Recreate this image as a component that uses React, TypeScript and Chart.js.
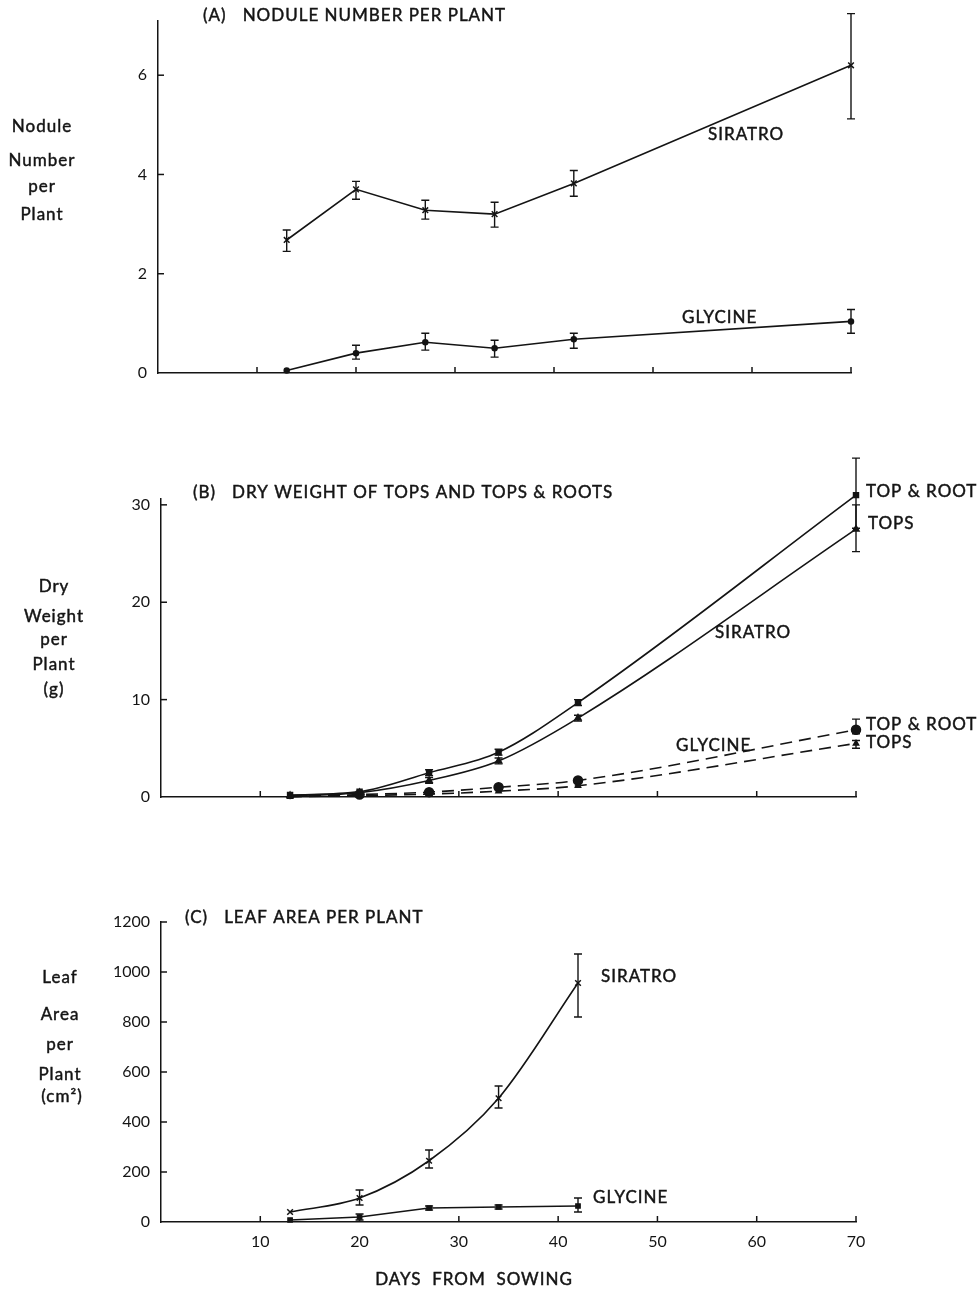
import React, { useEffect, useRef } from 'react';
import { Chart, registerables } from 'chart.js';

Chart.register(...registerables);
Chart.defaults.font.family = 'Lato';

// ---------- DATA ----------
const daysAB = [13, 20, 27, 34, 42, 70];
const daysC = [13, 20, 27, 34, 42];

// (A) Nodule number per plant
const noduleSiratro = [2.68, 3.7, 3.28, 3.2, 3.82, 6.2];
const noduleSiratroLow = [2.45, 3.5, 3.1, 2.94, 3.56, 5.12];
const noduleSiratroHigh = [2.88, 3.86, 3.48, 3.44, 4.08, 7.24];
const noduleGlycine = [0.05, 0.4, 0.62, 0.5, 0.68, 1.04];
const noduleGlycineLow = [null, 0.28, 0.46, 0.32, 0.5, 0.8];
const noduleGlycineHigh = [null, 0.56, 0.8, 0.66, 0.8, 1.28];

// (B) Dry weight per plant (g)
const dwSiratroTopRoot = [0.2, 0.55, 2.5, 4.6, 9.7, 31.0];
const dwSiratroTopRootLow = [null, null, 2.2, 4.3, 9.4, 27.6];
const dwSiratroTopRootHigh = [null, null, 2.8, 4.9, 10.0, 34.8];
const dwSiratroTops = [0.15, 0.45, 1.7, 3.7, 8.1, 27.5];
const dwSiratroTopsLow = [null, null, 1.4, 3.4, 7.8, 25.2];
const dwSiratroTopsHigh = [null, null, 2.0, 4.0, 8.4, 30.0];
const dwGlycineTopRoot = [0.05, 0.25, 0.5, 1.0, 1.7, 6.9];
const dwGlycineTopRootLow = [null, null, null, null, null, 6.5];
const dwGlycineTopRootHigh = [null, null, null, null, null, 8.0];
const dwGlycineTops = [0.03, 0.15, 0.3, 0.6, 1.15, 5.5];
const dwGlycineTopsLow = [null, null, null, null, null, 5.0];
const dwGlycineTopsHigh = [null, null, null, null, null, 5.8];

// (C) Leaf area per plant (cm2)
const laSiratro = [40, 96, 245, 495, 956];
const laSiratroLow = [null, 68, 216, 456, 820];
const laSiratroHigh = [null, 128, 288, 544, 1072];
const laGlycine = [8, 20, 56, 60, 64];
const laGlycineLow = [null, 8, 48, 52, 40];
const laGlycineHigh = [null, 32, 64, 68, 96];

const xTicks = [10, 20, 30, 40, 50, 60, 70];
const yTicksA = [0, 2, 4, 6];
const yTicksB = [0, 10, 20, 30];
const yTicksC = [0, 200, 400, 600, 800, 1000, 1200];

// ---------- helpers ----------
type TextItem = { text: string; x: number; y: number; align?: CanvasTextAlign; size?: number };
type ErrItem = { ds: number; low: (number | null)[]; high: (number | null)[] };

const INK = '#141414';

function pts(xs: number[], ys: number[]) {
  return xs.map((x, i) => ({ x, y: ys[i] }));
}

function makeDecor(texts: TextItem[], errs: ErrItem[], yTicks: number[], top: number) {
  return {
    id: 'decor',
    afterDatasetsDraw(chart: any) {
      const ctx: any = chart.ctx;
      const xs = chart.scales.x;
      const ys = chart.scales.y;
      const area = chart.chartArea;
      ctx.save();
      ctx.strokeStyle = INK;
      ctx.lineWidth = 1.5;
      ctx.setLineDash([]);
      // inward ticks
      xTicks.forEach((v) => {
        const px = xs.getPixelForValue(v);
        ctx.beginPath();
        ctx.moveTo(px, area.bottom);
        ctx.lineTo(px, area.bottom - 6);
        ctx.stroke();
      });
      yTicks.forEach((v) => {
        if (v <= ys.min) return;
        const py = ys.getPixelForValue(v);
        ctx.beginPath();
        ctx.moveTo(area.left, py);
        ctx.lineTo(area.left + 6, py);
        ctx.stroke();
      });
      // error bars
      errs.forEach((e) => {
        const ds = chart.data.datasets[e.ds];
        ds.data.forEach((p: any, j: number) => {
          const lo = e.low[j];
          const hi = e.high[j];
          if (lo == null || hi == null) return;
          const px = xs.getPixelForValue(p.x);
          const pl = ys.getPixelForValue(lo);
          const ph = ys.getPixelForValue(hi);
          ctx.lineWidth = 1.4;
          ctx.beginPath();
          ctx.moveTo(px, pl);
          ctx.lineTo(px, ph);
          ctx.moveTo(px - 4, pl);
          ctx.lineTo(px + 4, pl);
          ctx.moveTo(px - 4, ph);
          ctx.lineTo(px + 4, ph);
          ctx.stroke();
        });
      });
      // texts
      ctx.fillStyle = INK;
      ctx.strokeStyle = INK;
      ctx.lineWidth = 0.45;
      ctx.textBaseline = 'middle';
      if ('letterSpacing' in ctx) ctx.letterSpacing = '1px';
      texts.forEach((t) => {
        ctx.font = `${t.size ?? 17}px Lato`;
        ctx.textAlign = t.align ?? 'left';
        ctx.fillText(t.text, t.x, t.y - top);
        ctx.strokeText(t.text, t.x, t.y - top);
      });
      ctx.restore();
    },
  };
}

type PanelCfg = {
  top: number;
  height: number;
  chartTop: number;
  chartBottom: number;
  chartLeft: number;
  chartRight: number;
  xHeight: number;
  yMax: number;
  yStep: number;
  yTicks: number[];
  showXLabels: boolean;
  datasets: any[];
  texts: TextItem[];
  errs: ErrItem[];
};

const W = 979;

function Panel({ cfg }: { cfg: PanelCfg }) {
  const ref = useRef<HTMLCanvasElement | null>(null);
  useEffect(() => {
    if (!ref.current) return;
    const chart = new Chart(ref.current, {
      type: 'line',
      data: { datasets: cfg.datasets },
      options: {
        animation: false,
        responsive: false,
        devicePixelRatio: 1,
        layout: {
          padding: {
            left: 0,
            top: cfg.chartTop - cfg.top,
            right: W - cfg.chartRight,
            bottom: cfg.top + cfg.height - cfg.chartBottom - cfg.xHeight,
          },
        },
        plugins: { legend: { display: false }, tooltip: { enabled: false }, title: { display: false } },
        scales: {
          x: {
            type: 'linear',
            min: 0,
            max: 70,
            afterFit: (s: any) => {
              s.height = cfg.xHeight;
            },
            grid: { display: false, drawTicks: false },
            border: { display: true, color: INK, width: 1.5 },
            ticks: {
              display: cfg.showXLabels,
              stepSize: 10,
              padding: 10,
              color: INK,
              font: { size: 16 },
              callback: (v: any) => (v === 0 ? '' : String(v)),
            },
          },
          y: {
            type: 'linear',
            min: 0,
            max: cfg.yMax,
            afterFit: (s: any) => {
              s.width = cfg.chartLeft;
            },
            grid: { display: false, drawTicks: false },
            border: { display: true, color: INK, width: 1.5 },
            ticks: {
              stepSize: cfg.yStep,
              includeBounds: false,
              padding: 11,
              color: INK,
              font: { size: 16 },
              callback: (v: any) => String(v),
            },
          },
        },
      },
      plugins: [makeDecor(cfg.texts, cfg.errs, cfg.yTicks, cfg.top)],
    } as any);
    return () => chart.destroy();
  }, [cfg]);
  return (
    <canvas
      ref={ref}
      width={W}
      height={cfg.height}
      style={{ position: 'absolute', left: 0, top: cfg.top, width: W, height: cfg.height }}
    />
  );
}

const solid = (data: any[], style: string, radius: number | number[], smooth: boolean) => ({
  data,
  borderColor: INK,
  backgroundColor: INK,
  borderWidth: 1.6,
  pointStyle: style,
  pointRadius: radius,
  pointBorderWidth: 1.5,
  pointBackgroundColor: INK,
  pointBorderColor: INK,
  tension: smooth ? 0.4 : 0,
  cubicInterpolationMode: smooth ? 'monotone' : 'default',
  clip: false,
  fill: false,
});

const panelA: PanelCfg = {
  top: 0,
  height: 400,
  chartTop: 20,
  chartBottom: 373,
  chartLeft: 158,
  chartRight: 851,
  xHeight: 10,
  yMax: 7.1,
  yStep: 2,
  yTicks: yTicksA,
  showXLabels: false,
  datasets: [
    solid(pts(daysAB, noduleSiratro), 'crossRot', 4, false),
    solid(pts(daysAB, noduleGlycine), 'circle', 2.5, false),
  ],
  errs: [
    { ds: 0, low: noduleSiratroLow, high: noduleSiratroHigh },
    { ds: 1, low: noduleGlycineLow, high: noduleGlycineHigh },
  ],
  texts: [
    { text: '(A)   NODULE NUMBER PER PLANT', x: 203, y: 16 },
    { text: 'Nodule', x: 42, y: 127, align: 'center' },
    { text: 'Number', x: 42, y: 161, align: 'center' },
    { text: 'per', x: 42, y: 187, align: 'center' },
    { text: 'Plant', x: 42, y: 215, align: 'center' },
    { text: 'SIRATRO', x: 708, y: 135 },
    { text: 'GLYCINE', x: 682, y: 318 },
  ],
};

const dashed = (d: any) => ({ ...d, borderDash: [12, 7] });

const panelB: PanelCfg = {
  top: 430,
  height: 400,
  chartTop: 499,
  chartBottom: 797,
  chartLeft: 161,
  chartRight: 856,
  xHeight: 10,
  yMax: 30.6,
  yStep: 10,
  yTicks: yTicksB,
  showXLabels: false,
  datasets: [
    solid(pts(daysAB, dwSiratroTopRoot), 'rect', 3.5, true),
    solid(pts(daysAB, dwSiratroTops), 'triangle', 3.5, true),
    dashed(solid(pts(daysAB, dwGlycineTopRoot), 'circle', [2, 4.5, 4.5, 4.5, 4.5, 4.5], true)),
    dashed(solid(pts(daysAB, dwGlycineTops), 'triangle', 3, true)),
  ],
  errs: [
    { ds: 0, low: dwSiratroTopRootLow, high: dwSiratroTopRootHigh },
    { ds: 1, low: dwSiratroTopsLow, high: dwSiratroTopsHigh },
    { ds: 2, low: dwGlycineTopRootLow, high: dwGlycineTopRootHigh },
    { ds: 3, low: dwGlycineTopsLow, high: dwGlycineTopsHigh },
  ],
  texts: [
    { text: '(B)   DRY WEIGHT OF TOPS AND TOPS & ROOTS', x: 193, y: 493 },
    { text: 'Dry', x: 54, y: 587, align: 'center' },
    { text: 'Weight', x: 54, y: 617, align: 'center' },
    { text: 'per', x: 54, y: 640, align: 'center' },
    { text: 'Plant', x: 54, y: 665, align: 'center' },
    { text: '(g)', x: 54, y: 690, align: 'center' },
    { text: 'TOP & ROOT', x: 866, y: 492 },
    { text: 'TOPS', x: 868, y: 524 },
    { text: 'SIRATRO', x: 715, y: 633 },
    { text: 'GLYCINE', x: 676, y: 746 },
    { text: 'TOP & ROOT', x: 866, y: 725 },
    { text: 'TOPS', x: 866, y: 743 },
  ],
};

const panelC: PanelCfg = {
  top: 880,
  height: 411,
  chartTop: 922,
  chartBottom: 1222,
  chartLeft: 161,
  chartRight: 856,
  xHeight: 40,
  yMax: 1200,
  yStep: 200,
  yTicks: yTicksC,
  showXLabels: true,
  datasets: [
    solid(pts(daysC, laSiratro), 'crossRot', 4, true),
    solid(pts(daysC, laGlycine), 'rect', 3, false),
  ],
  errs: [
    { ds: 0, low: laSiratroLow, high: laSiratroHigh },
    { ds: 1, low: laGlycineLow, high: laGlycineHigh },
  ],
  texts: [
    { text: '(C)   LEAF AREA PER PLANT', x: 185, y: 918 },
    { text: 'Leaf', x: 60, y: 978, align: 'center' },
    { text: 'Area', x: 60, y: 1015, align: 'center' },
    { text: 'per', x: 60, y: 1045, align: 'center' },
    { text: 'Plant', x: 60, y: 1075, align: 'center' },
    { text: '(cm²)', x: 62, y: 1097, align: 'center' },
    { text: 'SIRATRO', x: 601, y: 977 },
    { text: 'GLYCINE', x: 593, y: 1198 },
    { text: 'DAYS  FROM  SOWING', x: 474, y: 1280, align: 'center' },
  ],
};

export default function App() {
  return (
    <div style={{ position: 'absolute', left: 0, top: 0, width: W, height: 1291, background: '#fff' }}>
      <Panel cfg={panelA} />
      <Panel cfg={panelB} />
      <Panel cfg={panelC} />
    </div>
  );
}
